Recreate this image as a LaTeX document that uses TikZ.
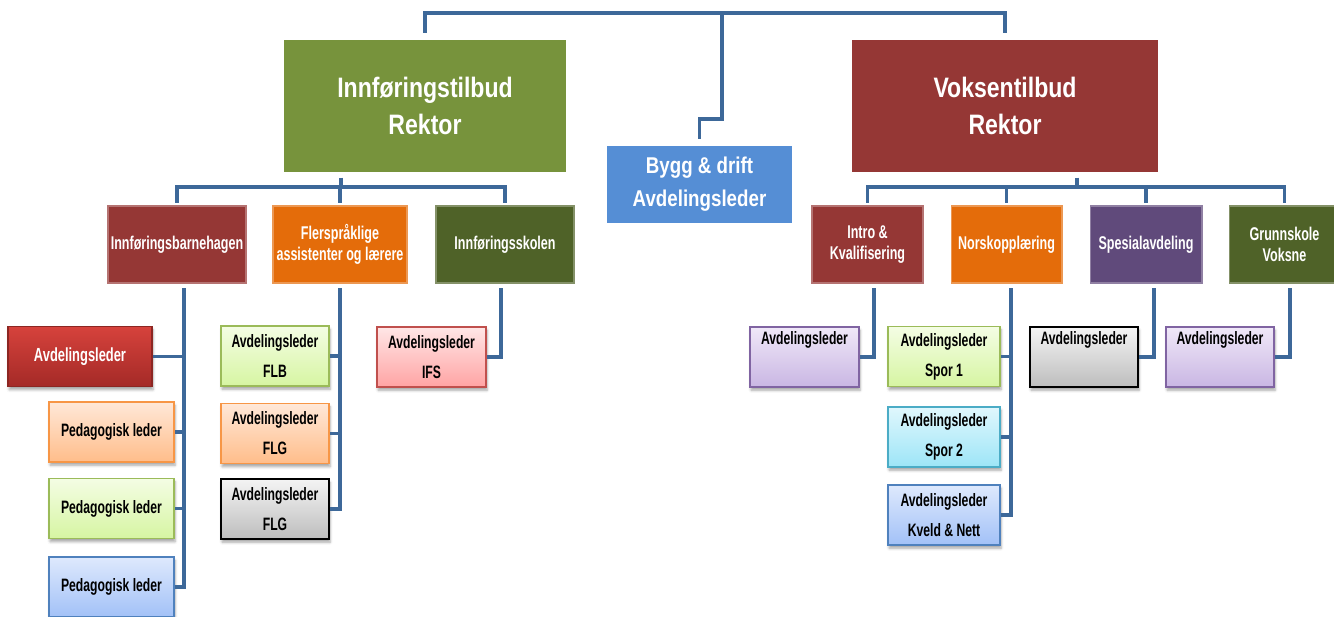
\documentclass[tikz,border=0pt]{standalone}
\usepackage{fontspec}
\setmainfont{Liberation Sans}[FakeStretch=0.82]
\newfontfamily\narrowfont{Liberation Sans}[FakeStretch=0.68]
\usetikzlibrary{shadows.blur, positioning}
\definecolor{lineBlue}{HTML}{3D6899}
\definecolor{oliveGreen}{HTML}{77933C}
\definecolor{wineRed}{HTML}{953735}
\definecolor{skyBlue}{HTML}{558ED5}
\definecolor{pumpkin}{HTML}{E46C0A}
\definecolor{darkOlive}{HTML}{4F6228}
\definecolor{plum}{HTML}{604A7B}
% fills for the lower boxes
\definecolor{lilacTop}{HTML}{F0E8F8}\definecolor{lilacBot}{HTML}{C9B6E3}\definecolor{lilacLine}{HTML}{8064A2}
\definecolor{limeTop}{HTML}{F4FDE4}\definecolor{limeBot}{HTML}{D6F5A2}\definecolor{limeLine}{HTML}{9BBB59}
\definecolor{cyanTop}{HTML}{E0F7FD}\definecolor{cyanBot}{HTML}{9DE5F7}\definecolor{cyanLine}{HTML}{4BACC6}
\definecolor{blueTop}{HTML}{DEE9FD}\definecolor{blueBot}{HTML}{A2C1F7}\definecolor{blueLine}{HTML}{4F81BD}
\definecolor{greyTop}{HTML}{F4F4F4}\definecolor{greyBot}{HTML}{BDBDBD}
\definecolor{peachTop}{HTML}{FFE8D8}\definecolor{peachBot}{HTML}{FFBD8A}\definecolor{peachLine}{HTML}{F79646}
\definecolor{pinkTop}{HTML}{FFE6E6}\definecolor{pinkBot}{HTML}{FFA4A4}\definecolor{pinkLine}{HTML}{C0504D}
\definecolor{redTop}{HTML}{D6423C}\definecolor{redBot}{HTML}{A42A27}\definecolor{redLine}{HTML}{8C2622}
\tikzset{
    orgLine/.style={draw=lineBlue, line width=1.8pt},
    rootBox/.style={rectangle, fill=#1, text=white, inner sep=0pt, align=center, font=\bfseries\fontsize{16}{21.5}\selectfont},
    unitBox/.style={rectangle, fill=#1, draw=#1!70!white, line width=0.6pt, text=white, inner sep=0pt, align=center,
        minimum width=2.22cm, minimum height=1.54cm, font=\narrowfont\bfseries\fontsize{10.5}{12}\selectfont},
    leadBox/.style n args={3}{rectangle, top color=#1, bottom color=#2, draw=#3, line width=1pt, inner sep=0pt, align=center,
        minimum width=2.18cm, minimum height=1.2cm, font=\narrowfont\bfseries\fontsize{10.2}{17}\selectfont,
        blur shadow={shadow xshift=0.6pt, shadow yshift=-1.8pt, shadow blur radius=1.5pt, shadow opacity=35}},
}
\newcommand{\drawDrop}[2]{
    \draw[orgLine, shorten >=1.5pt] (#1) -| (#2.north);
}
\newcommand{\drawBranch}[2]{
    \draw[orgLine] (#1) |- (#2.east);
}

\begin{document}
\begin{tikzpicture}[x=0.02cm, y=-0.02cm]
    \useasboundingbox (0,0) rectangle (1334,616);

    % top level
    \node[rootBox=oliveGreen, minimum width=5.64cm, minimum height=2.64cm] (innf) at (425,106) {Innføringstilbud\\Rektor};
    \node[rootBox=wineRed, minimum width=6.12cm, minimum height=2.64cm] (voks) at (1005,106) {Voksentilbud\\Rektor};
    \node[rootBox=skyBlue, minimum width=3.7cm, minimum height=1.54cm, font=\bfseries\fontsize{13}{18.7}\selectfont] (bygg) at (699.5,184.5) {Bygg \& drift\\Avdelingsleder};

    \coordinate (topBar) at (722,13);
    \coordinate (byggKnee) at (722,119);
    \draw[orgLine, shorten <=4pt, shorten >=4pt] (innf.north) |- (topBar) -| (voks.north);
    \draw[orgLine, shorten >=4pt] (topBar) -- (byggKnee) -| (bygg.north);

    % units
    \node[unitBox=wineRed, minimum width=2.76cm] (ibh) at (177,244.5) {Innføringsbarnehagen};
    \node[unitBox=pumpkin, minimum width=2.68cm] (fler) at (340,244.5) {Flerspråklige\\assistenter og lærere};
    \node[unitBox=darkOlive, minimum width=2.76cm] (iskol) at (505,244.5) {Innføringsskolen};
    \node[unitBox=wineRed] (intro) at (867.5,244.5) {Intro \&\\Kvalifisering};
    \node[unitBox=pumpkin] (norsk) at (1006.5,244.5) {Norskopplæring};
    \node[unitBox=plum, minimum width=2.24cm] (spes) at (1146,244.5) {Spesialavdeling};
    \node[unitBox=darkOlive] (grunn) at (1284.5,244.5) {Grunnskole\\Voksne};

    \coordinate (innfBus) at (341,187);
    \coordinate (voksBus) at (1077,187);
    \draw[orgLine, shorten <=3pt] (innf.south -| innfBus) -- (innfBus);
    \draw[orgLine, shorten <=3pt] (voks.south -| voksBus) -- (voksBus);
    \drawDrop{innfBus}{ibh}
    \drawDrop{innfBus}{fler}
    \drawDrop{innfBus}{iskol}
    \drawDrop{voksBus}{intro}
    \drawDrop{voksBus}{norsk}
    \drawDrop{voksBus}{spes}
    \drawDrop{voksBus}{grunn}

    % leaders, left side
    \node[leadBox={redTop}{redBot}{redLine}, minimum width=2.88cm, text=white, font=\narrowfont\bfseries\fontsize{10.8}{12}\selectfont] (avdIbh) at (80,356.5) {Avdelingsleder};
    \node[leadBox={peachTop}{peachBot}{peachLine}, minimum width=2.5cm] (ped1) at (111.5,432) {Pedagogisk leder};
    \node[leadBox={limeTop}{limeBot}{limeLine}, minimum width=2.5cm] (ped2) at (111.5,508.5) {Pedagogisk leder};
    \node[leadBox={blueTop}{blueBot}{blueLine}, minimum width=2.5cm] (ped3) at (111.5,587) {Pedagogisk leder};
    \node[leadBox={limeTop}{limeBot}{limeLine}, minimum width=2.16cm] (flb) at (275,356) {Avdelingsleder\\FLB};
    \node[leadBox={peachTop}{peachBot}{peachLine}, minimum width=2.16cm] (flg1) at (275,433.5) {Avdelingsleder\\FLG};
    \node[leadBox={greyTop}{greyBot}{black}, minimum width=2.16cm] (flg2) at (275,509) {Avdelingsleder\\FLG};
    \node[leadBox={pinkTop}{pinkBot}{pinkLine}] (ifs) at (431.5,357) {Avdelingsleder\\IFS};

    \coordinate (ibhBus) at (184,288);
    \coordinate (flerBus) at (340,288);
    \coordinate (iskolBus) at (501,288);
    \drawBranch{ibhBus}{avdIbh}
    \drawBranch{ibhBus}{ped1}
    \drawBranch{ibhBus}{ped2}
    \drawBranch{ibhBus}{ped3}
    \drawBranch{flerBus}{flb}
    \drawBranch{flerBus}{flg1}
    \drawBranch{flerBus}{flg2}
    \drawBranch{iskolBus}{ifs}

    % leaders, right side
    \node[leadBox={lilacTop}{lilacBot}{lilacLine}] (avdIntro) at (804.5,357) {Avdelingsleder\\\strut};
    \node[leadBox={limeTop}{limeBot}{limeLine}, minimum width=2.24cm] (spor1) at (944,356.5) {Avdelingsleder\\Spor 1};
    \node[leadBox={cyanTop}{cyanBot}{cyanLine}, minimum width=2.24cm] (spor2) at (944,437) {Avdelingsleder\\Spor 2};
    \node[leadBox={blueTop}{blueBot}{blueLine}, minimum width=2.24cm] (kveld) at (944,515) {Avdelingsleder\\Kveld \& Nett};
    \node[leadBox={greyTop}{greyBot}{black}, minimum width=2.16cm] (avdSpes) at (1084,357) {Avdelingsleder\\\strut};
    \node[leadBox={lilacTop}{lilacBot}{lilacLine}, minimum width=2.16cm] (avdGrunn) at (1220,357) {Avdelingsleder\\\strut};

    \coordinate (introBus) at (874,288);
    \coordinate (norskBus) at (1011,288);
    \coordinate (spesBus) at (1154,288);
    \coordinate (grunnBus) at (1290,288);
    \drawBranch{introBus}{avdIntro}
    \drawBranch{norskBus}{spor1}
    \drawBranch{norskBus}{spor2}
    \drawBranch{norskBus}{kveld}
    \drawBranch{spesBus}{avdSpes}
    \drawBranch{grunnBus}{avdGrunn}

\end{tikzpicture}
\end{document}
